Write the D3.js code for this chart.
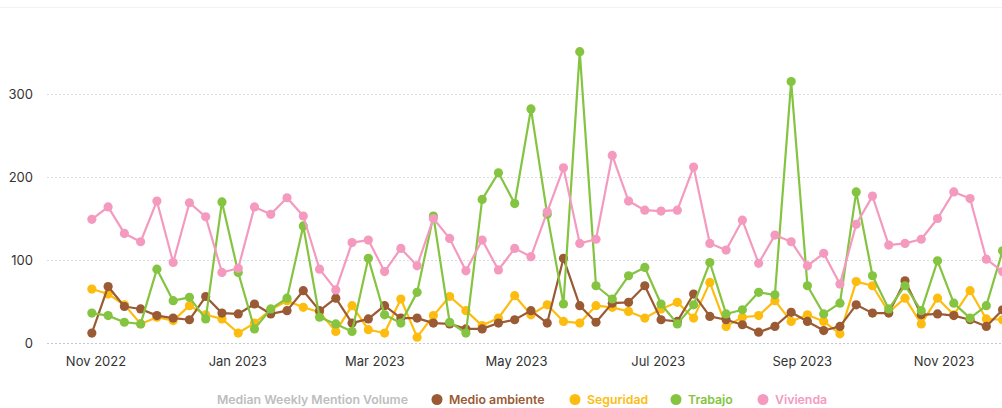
<!DOCTYPE html>
<html>
<head>
<meta charset="utf-8">
<script src="https://cdn.jsdelivr.net/npm/d3@7"></script>
<style>
  html, body { margin: 0; padding: 0; background: #fff; overflow: hidden; }
  svg { display: block; font-family: Inter, "Noto Sans", sans-serif; }
</style>
</head>
<body>
<svg id="chart" width="1002" height="408"></svg>
<script>
// ---- data ----
const startWeek = "2022-10-30";   // first weekly point (Sunday)
const weekCount = 57;
const seriesNames = ["Medio ambiente", "Seguridad", "Trabajo", "Vivienda"];
const medioAmbiente = [12,68,44,41,33,30,28,56,36,35,47,35,39,63,39,54,24,29,45,30,30,24,23,17,17,24,28,39,24,102,45,25,48,49,69,28,26,59,32,28,22,13,20,37,26,15,20,46,36,36,75,34,35,33,28,20,40];
const seguridad = [65,59,46,23,31,27,45,34,29,12,24,40,51,43,37,14,45,16,12,53,7,33,56,39,21,30,57,34,46,26,24,45,43,38,30,41,49,30,73,20,31,33,51,26,34,26,11,74,69,37,54,23,54,34,63,29,28];
const trabajo = [36,33,25,23,89,51,55,29,170,85,17,41,54,141,31,23,14,102,34,24,61,153,25,12,173,205,168,282,155,47,351,69,53,81,91,47,23,46,97,35,40,61,58,315,69,35,48,182,81,41,69,39,99,48,30,45,111];
const vivienda = [149,164,132,122,171,97,169,152,85,90,164,155,175,153,89,64,121,124,86,114,93,150,126,87,124,88,114,104,158,211,120,125,226,171,160,159,160,212,120,112,148,96,130,122,93,108,71,143,177,118,120,125,150,182,174,101,86];
const yTicks = [0, 100, 200, 300];
const xTickLabels = ["2022-11-01","2023-01-01","2023-03-01","2023-05-01","2023-07-01","2023-09-01","2023-11-01"];
const legendTitle = "Median Weekly Mention Volume";

// ---- styles ----
const colors = {
  "Medio ambiente": "#9a5a34",
  "Seguridad": "#fdbd10",
  "Trabajo": "#84c440",
  "Vivienda": "#f49abf"
};
const valuesByName = {
  "Medio ambiente": medioAmbiente,
  "Seguridad": seguridad,
  "Trabajo": trabajo,
  "Vivienda": vivienda
};
const drawOrder = ["Seguridad", "Medio ambiente", "Trabajo", "Vivienda"];

const parse = d3.utcParse("%Y-%m-%d");
const t0 = parse(startWeek);
const dates = d3.range(weekCount).map(i => d3.utcWeek.offset(t0, i));

const svg = d3.select("#chart");
const W = 1002;

const x = d3.scaleUtc()
  .domain([parse("2022-11-01"), parse("2023-11-01")])
  .range([96.5, 944.5]);
const y = d3.scaleLinear().domain([0, 400]).range([343, 11]);

// top faint border
svg.append("line").attr("x1", 0).attr("x2", W).attr("y1", 7.5).attr("y2", 7.5)
  .attr("stroke", "#f2f2f2").attr("stroke-width", 1);

// grid
const grid = svg.append("g");
grid.selectAll("line").data(yTicks).join("line")
  .attr("x1", 47).attr("x2", W)
  .attr("y1", d => Math.round(y(d)) + 0.5).attr("y2", d => Math.round(y(d)) + 0.5)
  .attr("stroke", d => d === 0 ? "#c4c4dc" : "#dcdcdc")
  .attr("stroke-width", 1)
  .attr("stroke-dasharray", "2,2");

// y axis labels
const yAxis = d3.axisLeft(y).tickValues(yTicks).tickSize(0).tickPadding(0);
svg.append("g").attr("transform", "translate(33,0)").call(yAxis)
  .call(g => g.select(".domain").remove())
  .call(g => g.selectAll("text").attr("fill", "#333").attr("font-size", 13)
    .attr("font-family", "Inter, 'Noto Sans', sans-serif"));

// x axis labels
const xAxis = d3.axisBottom(x).tickValues(xTickLabels.map(parse))
  .tickFormat(d3.utcFormat("%b %Y")).tickSize(0).tickPadding(0);
svg.append("g").attr("transform", "translate(-1,357)").call(xAxis)
  .call(g => g.select(".domain").remove())
  .call(g => g.selectAll("text").attr("fill", "#333").attr("font-size", 13)
    .attr("font-family", "Inter, 'Noto Sans', sans-serif"));

// series
const line = d3.line().x((d, i) => x(dates[i])).y(d => y(d));
drawOrder.forEach(name => {
  const vals = valuesByName[name];
  const g = svg.append("g");
  g.append("path").datum(vals)
    .attr("d", line)
    .attr("fill", "none")
    .attr("stroke", colors[name])
    .attr("stroke-width", 2.2)
    .attr("stroke-linejoin", "round");
  g.selectAll("circle").data(vals).join("circle")
    .attr("cx", (d, i) => x(dates[i]))
    .attr("cy", d => y(d))
    .attr("r", 4.6)
    .attr("fill", colors[name]);
});

// legend
const leg = svg.append("g").attr("font-size", 12.3).attr("font-weight", 600);
leg.append("text").attr("x", 217).attr("y", 404).attr("fill", "#bdbdbd").text(legendTitle);
const legPos = [437, 575, 676, 763];
seriesNames.forEach((name, k) => {
  leg.append("circle").attr("cx", legPos[k]).attr("cy", 399.5).attr("r", 5.5).attr("fill", colors[name]);
  leg.append("text").attr("x", legPos[k] + 12).attr("y", 404).attr("fill", colors[name]).text(name);
});
</script>
</body>
</html>
